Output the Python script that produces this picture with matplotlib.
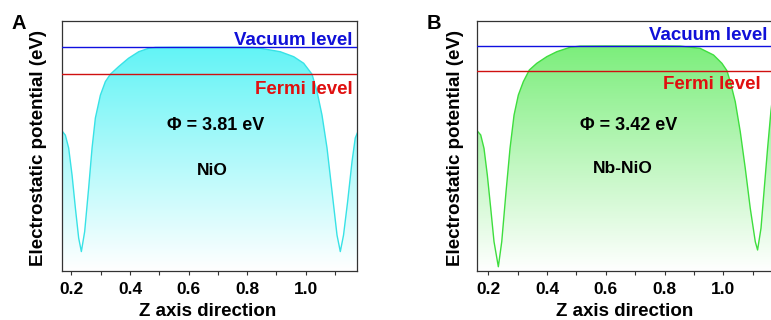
import numpy as np
import matplotlib
matplotlib.use("Agg")
import matplotlib.pyplot as plt
from matplotlib.colors import to_rgb

plt.rcParams['font.family'] = ['Liberation Sans', 'DejaVu Sans']
plt.rcParams['font.weight'] = 'bold'

# panel A, NiO (Fermi level = 0 eV)
z_a = [0.168, 0.1795, 0.1908, 0.2024, 0.2137, 0.2249, 0.2341, 0.2454, 0.259, 0.2706,
       0.2819, 0.299, 0.316, 0.333, 0.361, 0.395, 0.430, 0.464, 0.487, 0.55,
       0.65, 0.75, 0.82, 0.845, 0.913, 0.959, 0.993, 1.0215, 1.0386, 1.0556,
       1.0727, 1.0898, 1.1068, 1.118, 1.129, 1.143, 1.158, 1.169, 1.176]
v_a = [-7.9, -8.5, -10.3, -14.1, -18.7, -22.9, -24.8, -22.0, -15.9, -10.3,
       -6.1, -2.9, -1.0, 0.03, 1.09, 2.27, 3.19, 3.67, 3.79, 3.81,
       3.81, 3.81, 3.79, 3.67, 3.19, 2.49, 1.57, 0.03, -2.4, -5.7,
       -10.3, -16.4, -22.5, -24.8, -22.5, -17.8, -12.2, -8.9, -8.2]
vac_a = 3.81
fermi_a = 0.0

# panel B, Nb-NiO
z_b = [0.1625, 0.1741, 0.1853, 0.1966, 0.2082, 0.2194, 0.2341, 0.2457, 0.2603, 0.2739,
       0.2876, 0.3022, 0.3192, 0.3397, 0.3649, 0.399, 0.4331, 0.4784, 0.5126, 0.6,
       0.7, 0.8, 0.853, 0.9207, 0.9666, 0.9952, 1.0122, 1.0235, 1.0405, 1.0576,
       1.0746, 1.0916, 1.1087, 1.1165, 1.1281, 1.1393, 1.1506, 1.1622, 1.168]
v_b = [-8.35, -8.9, -10.75, -14.45, -19.06, -23.68, -27.15, -23.68, -16.76, -10.75,
       -6.14, -3.37, -1.52, 0.10, 1.02, 1.94, 2.63, 3.24, 3.40, 3.42,
       3.42, 3.42, 3.40, 3.10, 2.17, 1.02, 0.0, -1.52, -4.29, -8.45,
       -13.52, -19.06, -23.68, -24.83, -21.83, -16.29, -10.75, -5.5, -3.5]
vac_b = 3.42
fermi_b = 0.0

xticks = [0.2, 0.4, 0.6, 0.8, 1.0]
xtick_labels = ['0.2', '0.4', '0.6', '0.8', '1.0']


def draw_panel(ax, z, v, vac, fermi, xlim, ylim, line_col, top_col, phi_text, name,
               phi_pos, name_pos, vac_pos, fermi_pos):
    ax.set_xlim(*xlim)
    ax.set_ylim(*ylim)
    # gradient fill under the curve
    poly = ax.fill_between(z, v, ylim[0], color='none', lw=0)
    n = 256
    top = np.array(to_rgb(top_col))
    frac = np.linspace(0, 1, n)[:, None]
    grad = (1 - frac) * np.ones(3) + frac * top
    grad = grad[:, None, :]
    # white at the bottom, top_col at the vacuum level
    img = ax.imshow(grad, extent=[xlim[0], xlim[1], ylim[0], vac], origin='lower',
                    aspect='auto', zorder=1, interpolation='bilinear')
    img.set_clip_path(poly.get_paths()[0], transform=ax.transData)
    ax.set_xlim(*xlim)
    ax.set_ylim(*ylim)
    ax.plot(z, v, color=line_col, lw=1.0, zorder=2)
    ax.axhline(vac, color='#1010e0', lw=1.0, zorder=3)
    ax.axhline(fermi, color='#d01010', lw=1.0, zorder=3)
    ax.text(vac_pos[0], vac_pos[1], 'Vacuum level', color='#1010d8', fontsize=13.5,
            fontweight='bold', ha='right', va='baseline', zorder=4)
    ax.text(fermi_pos[0], fermi_pos[1], 'Fermi level', color='#e01010', fontsize=13.5,
            fontweight='bold', ha='right', va='baseline', zorder=4)
    ax.text(phi_pos[0], phi_pos[1], phi_text, fontsize=13, fontweight='bold',
            ha='center', va='center', zorder=4)
    ax.text(name_pos[0], name_pos[1], name, fontsize=12.5, fontweight='bold',
            ha='center', va='center', zorder=4)
    ax.set_yticks([])
    ax.set_xticks(xticks)
    ax.set_xticklabels(xtick_labels, fontsize=12.5, fontweight='bold')
    ax.set_xticks([0.3, 0.5, 0.7, 0.9, 1.1], minor=True)
    ax.tick_params(axis='x', which='both', direction='out', length=3, width=0.8,
                   color='#333333', pad=5)
    for s in ax.spines.values():
        s.set_color('#333333')
        s.set_linewidth(0.9)


fig = plt.figure(figsize=(7.71, 3.2), dpi=100)
W, H = 771.0, 320.0

ax_a = fig.add_axes([61.7 / W, 1 - 270.5 / H, (357 - 61.7) / W, 249.5 / H])
draw_panel(ax_a, z_a, v_a, vac_a, fermi_a, (0.167, 1.175), (-27.45, 7.49),
           '#38e2e6', '#62f4f6', '\u03a6 = 3.81 eV', 'NiO',
           (0.694, -7.14), (0.680, -13.4), (1.160, 4.13), (1.160, -2.73))

ax_b = fig.add_axes([477.3 / W, 1 - 270.5 / H, (773 - 477.3) / W, 249.5 / H])
draw_panel(ax_b, z_b, v_b, vac_b, fermi_b, (0.1625, 1.169), (-27.67, 6.88),
           '#3ede3e', '#7cee7c', '\u03a6 = 3.42 eV', 'Nb-NiO',
           (0.679, -7.66), (0.657, -13.6), (1.1486, 4.25), (1.1257, -2.58))

# axis labels and panel letters
for cx in [208 / W, 625 / W]:
    fig.text(cx, 1 - 316 / H, 'Z axis direction', fontsize=13.5, fontweight='bold',
             ha='center', va='baseline')
fig.text(39 / W, 1 - 148 / H, 'Electrostatic potential (eV)', fontsize=13.5,
         fontweight='bold', rotation=90, ha='center', va='center')
fig.text(455.5 / W, 1 - 148 / H, 'Electrostatic potential (eV)', fontsize=13.5,
         fontweight='bold', rotation=90, ha='center', va='center')
fig.text(12 / W, 1 - 29 / H, 'A', fontsize=14.5, fontweight='bold', va='baseline')
fig.text(427 / W, 1 - 29 / H, 'B', fontsize=14.5, fontweight='bold', va='baseline')

fig.savefig('out.png', dpi=100)
